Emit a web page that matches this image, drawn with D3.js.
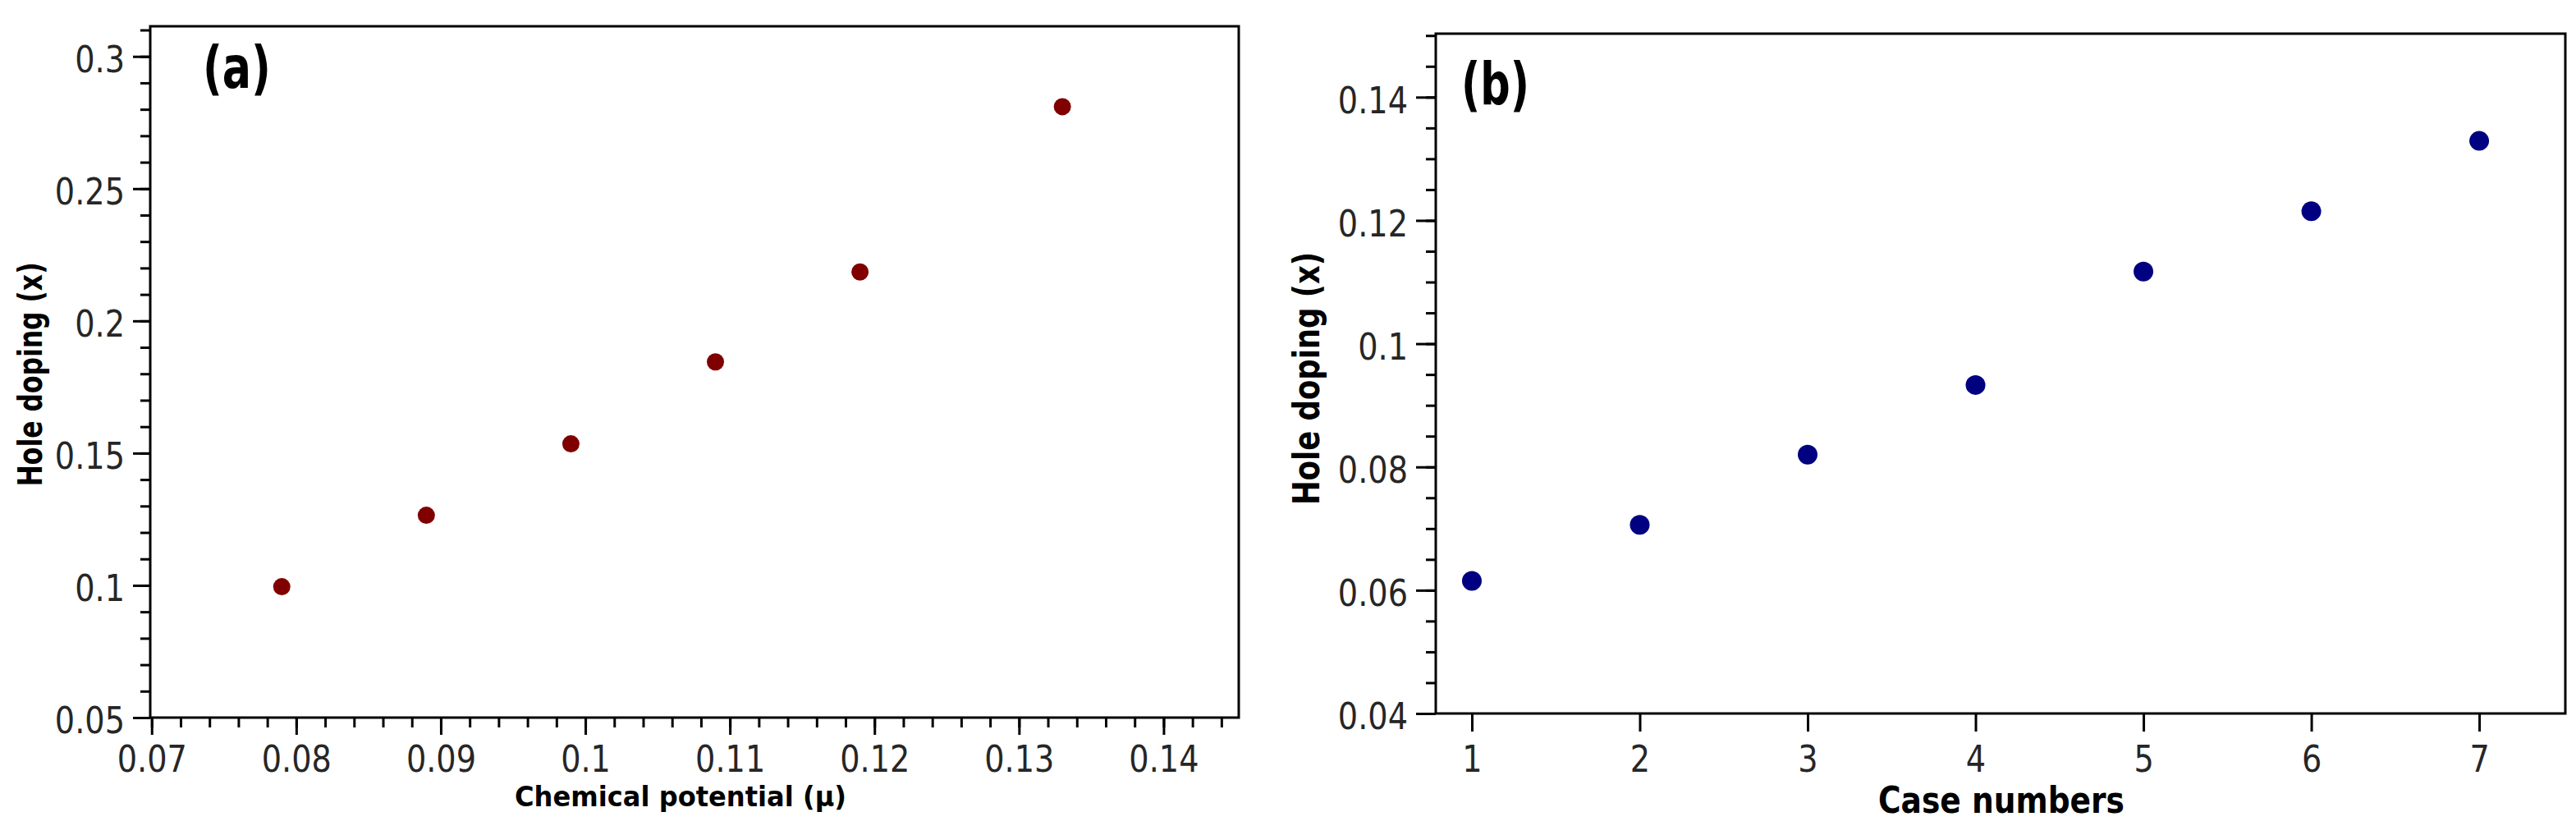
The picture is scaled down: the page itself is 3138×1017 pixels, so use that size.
<!DOCTYPE html>
<html><head><meta charset="utf-8">
<script src="https://cdn.jsdelivr.net/npm/d3@7"></script>
<style>
body{margin:0;background:#fff;}
svg{display:block;background:#fff;}
.tick text{font-family:"DejaVu Sans",sans-serif;font-size:45px;fill:#262626;}
.tick line{stroke:#000;stroke-width:3px;}
</style></head><body>
<svg id="c" width="3138" height="1017"></svg>
<script>
// ---- data ----
const muValues   = [0.079, 0.089, 0.099, 0.109, 0.119, 0.133];
const dopingA    = [0.0995, 0.1265, 0.1535, 0.1845, 0.2185, 0.281];
const caseNumbers = [1, 2, 3, 4, 5, 6, 7];
const dopingB    = [0.0615, 0.0706, 0.0820, 0.0933, 0.1117, 0.1215, 0.1329];
const aXTicks = [0.07, 0.08, 0.09, 0.10, 0.11, 0.12, 0.13, 0.14];
const aYTicks = [0.05, 0.10, 0.15, 0.20, 0.25, 0.30];
const bXTicks = [1, 2, 3, 4, 5, 6, 7];
const bYTicks = [0.04, 0.06, 0.08, 0.10, 0.12, 0.14];
const aXLabel = "Chemical potential (\u03bc)";
const bXLabel = "Case numbers";
const yLabel = "Hole doping (x)";

const svg = d3.select("#c");
const fmt = d => String(+d.toFixed(3));

function panel(cfg){
  const x = d3.scaleLinear().domain(cfg.xDom).range([cfg.left, cfg.right]);
  const y = d3.scaleLinear().domain(cfg.yDom).range([cfg.bottom, cfg.top]);
  const g = svg.append("g");

  // minor ticks
  if (cfg.xMinor){
    const gx = g.append("g").attr("transform",`translate(0,${cfg.bottom})`)
      .call(d3.axisBottom(x).tickValues(cfg.xMinor).tickSize(12).tickSizeOuter(0).tickFormat(""));
    gx.select(".domain").remove();
  }
  const gy0 = g.append("g").attr("transform",`translate(${cfg.left},0)`)
    .call(d3.axisLeft(y).tickValues(cfg.yMinor).tickSize(12).tickSizeOuter(0).tickFormat(""));
  gy0.select(".domain").remove();

  // major ticks
  const gx = g.append("g").attr("transform",`translate(0,${cfg.bottom})`)
    .call(d3.axisBottom(x).tickValues(cfg.xTicks).tickSize(cfg.xTickLen).tickPadding(cfg.xPad).tickSizeOuter(0).tickFormat(fmt));
  gx.select(".domain").remove();
  gx.selectAll("text").style("transform","scaleX(0.85)").style("transform-box","fill-box").style("transform-origin","center");

  const gy = g.append("g").attr("transform",`translate(${cfg.left},0)`)
    .call(d3.axisLeft(y).tickValues(cfg.yTicks).tickSize(cfg.yTickLen).tickPadding(10).tickSizeOuter(0).tickFormat(fmt));
  gy.select(".domain").remove();
  gy.selectAll("text").attr("dy","0.42em").style("transform","scaleX(0.85)").style("transform-box","fill-box").style("transform-origin","right center");

  // frame
  g.append("rect").attr("x",cfg.left).attr("y",cfg.top)
    .attr("width",cfg.right-cfg.left).attr("height",cfg.bottom-cfg.top)
    .attr("fill","none").attr("stroke","#000").attr("stroke-width",3);

  // points
  g.append("g").selectAll("circle").data(cfg.xs).join("circle")
    .attr("cx",(d)=>x(d)).attr("cy",(d,i)=>y(cfg.ys[i]))
    .attr("r",cfg.r).attr("fill",cfg.color);

  // panel tag
  g.append("text").attr("x",cfg.tag[1]).attr("y",cfg.tag[2])
    .attr("font-family","DejaVu Sans").attr("font-weight","bold").attr("font-size",72)
    .attr("textLength",83).attr("lengthAdjust","spacingAndGlyphs").text(cfg.tag[0]);

  // x title
  g.append("text").attr("x",cfg.xt[0]).attr("y",cfg.xt[1]).attr("text-anchor","middle")
    .attr("font-family","DejaVu Sans").attr("font-weight","bold").attr("font-size",cfg.xt[2])
    .attr("textLength",cfg.xt[3]).attr("lengthAdjust","spacingAndGlyphs").text(cfg.xLabel);
  // y title
  g.append("text").attr("transform",`translate(${cfg.yt[0]},${cfg.yt[1]}) rotate(-90)`).attr("text-anchor","middle")
    .attr("font-family","DejaVu Sans").attr("font-weight","bold").attr("font-size",cfg.yt[2])
    .attr("textLength",cfg.yt[3]).attr("lengthAdjust","spacingAndGlyphs").text(yLabel);
}

panel({
  left:183, right:1509, top:32, bottom:874,
  xDom:[0.0699,0.1452], yDom:[0.05,0.3114],
  xTicks:aXTicks, yTicks:aYTicks,
  xMinor:d3.range(0,38).map(i=>+(0.07+i*0.002).toFixed(3)),
  yMinor:d3.range(0,27).map(i=>+(0.05+i*0.01).toFixed(3)),
  xTickLen:21, xPad:13, yTickLen:21,
  xs:muValues, ys:dopingA, r:10.5, color:"#800000",
  tag:["(a)",247,107],
  xt:[829,982,34,404], yt:[51,456,41,273], xLabel:aXLabel
});
panel({
  left:1749, right:3125, top:41, bottom:869,
  xDom:[0.785,7.513], yDom:[0.04,0.1503],
  xTicks:bXTicks, yTicks:bYTicks,
  xMinor:null,
  yMinor:d3.range(0,23).map(i=>+(0.04+i*0.005).toFixed(3)),
  xTickLen:22, xPad:17, yTickLen:24,
  xs:caseNumbers, ys:dopingB, r:12, color:"#000080",
  tag:["(b)",1780,127],
  xt:[2438,990,45,300], yt:[1607,461,44,308], xLabel:bXLabel
});
</script></body></html>
